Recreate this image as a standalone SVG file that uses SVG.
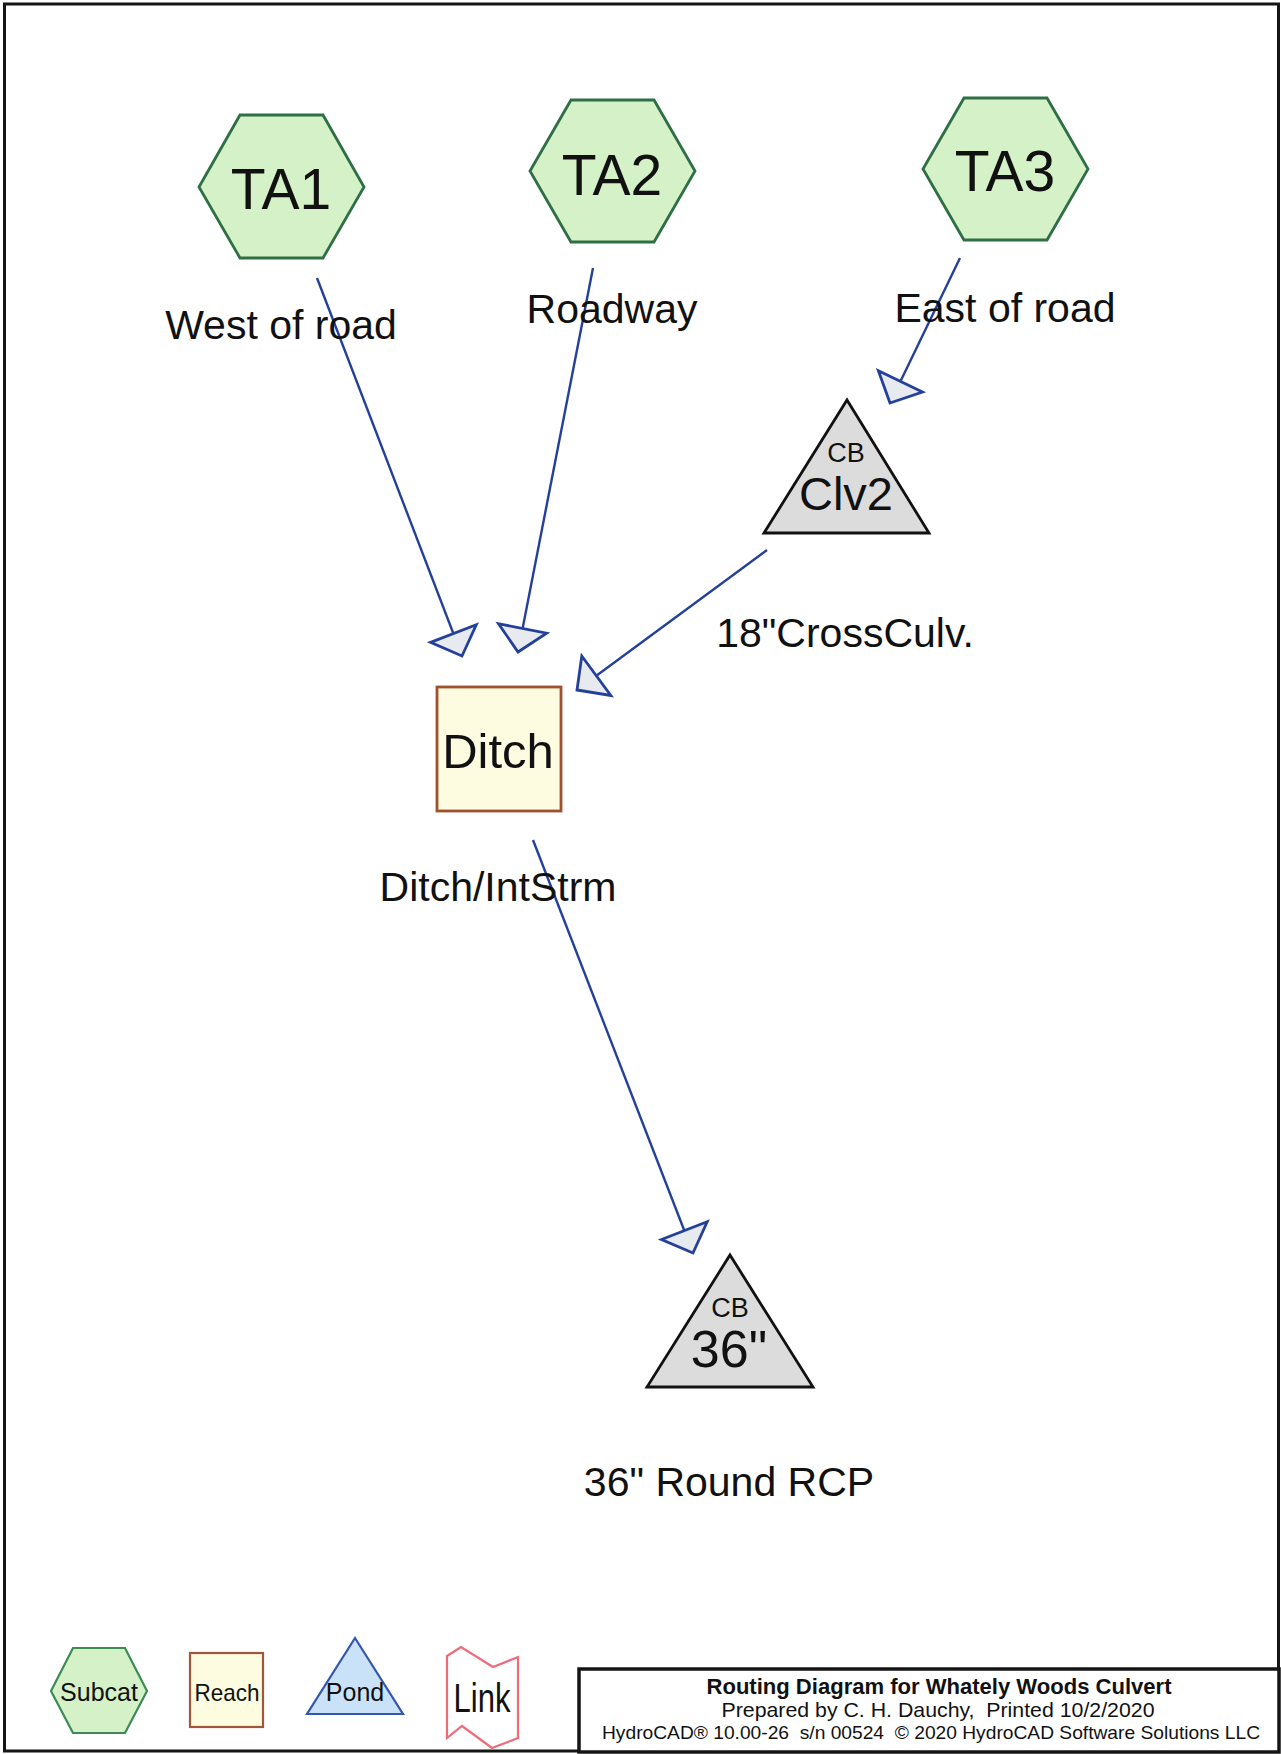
<svg xmlns="http://www.w3.org/2000/svg" width="1281" height="1754" viewBox="0 0 1281 1754">
<defs>
<style>
text{font-family:"Liberation Sans",Arial,sans-serif;fill:#111;text-anchor:middle}
.hex{fill:#d4f1c7;stroke:#2f6f45;stroke-width:2.8}
.pond{fill:#dcdcdc;stroke:#111;stroke-width:2.8;stroke-linejoin:miter}
.reach{fill:#fdfbe0;stroke:#a0502e;stroke-width:2.8}
.lbl{font-size:41px}
.id{font-size:57px}
.conn{stroke:#24409a;stroke-width:2.4;fill:none;marker-end:url(#arr)}
</style>
<marker id="arr" markerUnits="userSpaceOnUse" markerWidth="32" markerHeight="56" viewBox="-28 -28 32 56" refX="0" refY="0" orient="auto">
<path d="M0,0 L-24,-24.5 L-24,24.5 Z" fill="#e7eaef" stroke="#24409a" stroke-width="2.8"/>
</marker>
</defs>
<rect x="0" y="0" width="1281" height="1754" fill="#fff"/>
<rect x="4.5" y="4" width="1274" height="1747" fill="none" stroke="#151515" stroke-width="3"/>

<g id="connectors">
<line class="conn" x1="317" y1="278" x2="462" y2="656"/>
<line class="conn" x1="593" y1="268" x2="518" y2="652"/>
<line class="conn" x1="960" y1="258" x2="890" y2="403"/>
<line class="conn" x1="767" y1="550" x2="577" y2="690"/>
<line class="conn" x1="533" y1="840" x2="693" y2="1253"/>
</g>

<g id="TA1">
<polygon class="hex" points="199,187 240,115 323,115 364,187 323,258 240,258"/>
<text class="id" x="281" y="209">TA1</text>
<text class="lbl" x="281" y="339">West of road</text>
</g>
<g id="TA2">
<polygon class="hex" points="530,171 571,100 654,100 695,171 654,242 571,242"/>
<text class="id" x="612" y="195">TA2</text>
<text class="lbl" x="612" y="323">Roadway</text>
</g>
<g id="TA3">
<polygon class="hex" points="923,169 964,98 1047,98 1088,169 1047,240 964,240"/>
<text class="id" x="1005" y="191">TA3</text>
<text class="lbl" x="1005" y="322">East of road</text>
</g>
<g id="Clv2">
<polygon class="pond" points="847,400 929,533 764,533"/>
<text x="846" y="462" style="font-size:27px">CB</text>
<text x="846" y="510" style="font-size:47px">Clv2</text>
<text class="lbl" x="845" y="647">18"CrossCulv.</text>
</g>
<g id="Ditch">
<rect class="reach" x="437" y="687" width="124" height="124"/>
<text x="498" y="768" style="font-size:49px">Ditch</text>
<text class="lbl" x="498" y="901">Ditch/IntStrm</text>
</g>
<g id="C36">
<polygon class="pond" points="730,1255 813,1387 647,1387"/>
<text x="730" y="1317" style="font-size:27px">CB</text>
<text x="729" y="1367" style="font-size:52px">36"</text>
<text class="lbl" x="729" y="1496">36" Round RCP</text>
</g>

<g id="legend">
<g id="leg-subcat">
<polygon points="51,1691 73,1648 125,1648 147,1691 125,1733 73,1733" fill="#d4f1c7" stroke="#3d8a55" stroke-width="2.2"/>
<text x="99" y="1701" style="font-size:25px">Subcat</text>
</g>
<g id="leg-reach">
<rect x="190" y="1653" width="73" height="74" fill="#fdfbe0" stroke="#a0583a" stroke-width="2.2"/>
<text x="227" y="1701" style="font-size:24px" textLength="65" lengthAdjust="spacingAndGlyphs">Reach</text>
</g>
<g id="leg-pond">
<polygon points="355,1638 403,1714 307,1714" fill="#c9e2f7" stroke="#3556b0" stroke-width="2.2"/>
<text x="355" y="1701" style="font-size:25px">Pond</text>
</g>
<g id="leg-link">
<polygon points="447,1656 461,1647 493,1667 518,1657 518,1738 492,1748 462,1726 447,1738" fill="#fff" stroke="#f06a78" stroke-width="2.2"/>
<text x="482" y="1712" style="font-size:40px" textLength="57" lengthAdjust="spacingAndGlyphs">Link</text>
</g>
</g>

<g id="title">
<rect x="579" y="1669" width="700" height="83" fill="#fff" stroke="#151515" stroke-width="3.5"/>
<text x="939" y="1694" style="font-size:22px;font-weight:bold" textLength="465" lengthAdjust="spacingAndGlyphs">Routing Diagram for Whately Woods Culvert</text>
<text x="938" y="1717" xml:space="preserve" style="font-size:21px" textLength="433" lengthAdjust="spacingAndGlyphs">Prepared by C. H. Dauchy,  Printed 10/2/2020</text>
<text x="931" y="1739" xml:space="preserve" style="font-size:18.5px" textLength="658" lengthAdjust="spacingAndGlyphs">HydroCAD® 10.00-26  s/n 00524  © 2020 HydroCAD Software Solutions LLC</text>
</g>
</svg>
